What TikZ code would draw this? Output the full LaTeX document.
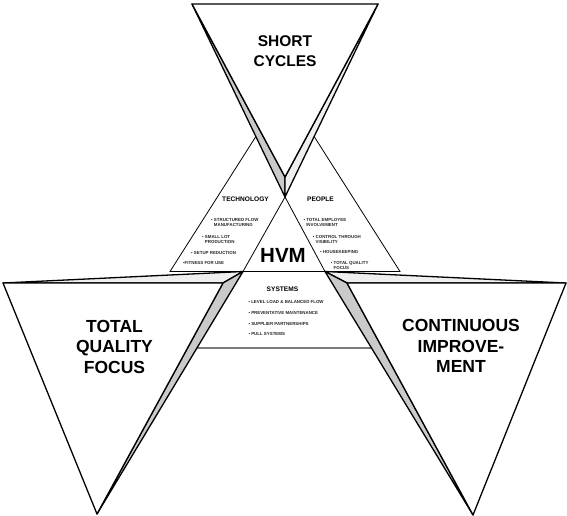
\documentclass[tikz,border=0pt]{standalone}
\usepackage{fontspec}
\setmainfont{Liberation Sans}
\definecolor{foldDark}{HTML}{CACACA}
\definecolor{foldLight}{HTML}{EFEFEF}
\definecolor{baseGray}{HTML}{7A7A7A}
\begin{document}
\begin{tikzpicture}[x=1pt,y=-1pt,
  fold/.style={draw=black, line width=1.3pt, line join=round},
  face/.style={fold, fill=white},
  darkfold/.style={fold, fill=foldDark},
  lightfold/.style={fold, fill=foldLight},
  frame/.style={draw=black, line width=0.8pt},
  baseline/.style={draw=baseGray, line width=1.6pt},
  biglabel/.style={font=\bfseries\fontsize{17.5}{20.5}\selectfont, align=center, inner sep=0pt},
  toplabel/.style={font=\bfseries\fontsize{15.5}{20}\selectfont, align=center, inner sep=0pt},
  hvmlabel/.style={font=\bfseries\fontsize{20.5}{24}\selectfont, inner sep=0pt},
  head/.style={font=\bfseries\fontsize{6.6}{8}\selectfont, inner sep=0pt},
  item/.style={font=\bfseries\fontsize{4.4}{5}\selectfont, text=black!85, anchor=west, align=left, inner sep=0pt}
]
\useasboundingbox (0,0) rectangle (567,516);

% corner points of the three folded triangles
\coordinate (TL) at (192,4);   \coordinate (TR) at (378,4);
\coordinate (TF) at (285,177); \coordinate (TB) at (285,197);
\coordinate (LL) at (3,283);   \coordinate (LR) at (223,283);
\coordinate (LA) at (97,514);  \coordinate (LB) at (243,271.5);
\coordinate (RL) at (347,283); \coordinate (RR) at (566,283);
\coordinate (RA) at (473,515); \coordinate (RB) at (325,271.5);

% central pyramid
\coordinate (C1) at (170,271.5); \coordinate (C2) at (400,271.5);
\coordinate (C1u) at (260,130);  \coordinate (C2u) at (310,130);
\coordinate (S1) at (150,348);   \coordinate (S2) at (420,348);

\draw[frame] (C1u) -- (C1) -- (C2) -- (C2u);
\draw[frame] (LB) -- (TB) -- (RB);
\draw[baseline] (S1) -- (S2);

% top triangle
\path[darkfold]  (TL) -- (TF) -- (TB) -- cycle;
\path[lightfold] (TR) -- (TF) -- (TB) -- cycle;
\path[face]      (TL) -- (TR) -- (TF) -- cycle;

% lower left triangle
\path[lightfold] (LL) -- (LB) -- (LR) -- cycle;
\path[darkfold]  (LR) -- (LB) -- (LA) -- cycle;
\path[face]      (LL) -- (LR) -- (LA) -- cycle;

% lower right triangle
\path[lightfold] (RR) -- (RB) -- (RL) -- cycle;
\path[darkfold]  (RL) -- (RB) -- (RA) -- cycle;
\path[face]      (RL) -- (RR) -- (RA) -- cycle;

% titles
\node[toplabel] (shortcycles) at (285,51) {SHORT\\CYCLES};
\node[biglabel] (tqf) at (114.5,346.5) {TOTAL\\QUALITY\\FOCUS};
\node[biglabel] (ci) at (461,346) {CONTINUOUS\\IMPROVE-\\MENT};
\node[hvmlabel] (hvm) at (283,255.5) {HVM};

% section heads
\node[head] (tech) at (245.5,199.5) {TECHNOLOGY};
\node[head] (people) at (320.5,199.5) {PEOPLE};
\node[head] (systems) at (282.5,289.5) {SYSTEMS};

% technology items
\node[item] (t1) at (211,222.5) {\textbullet\ STRUCTURED FLOW\\\hphantom{\textbullet\ }MANUFACTURING};
\node[item] (t2) at (202,239) {\textbullet\ SMALL LOT\\\hphantom{\textbullet\ }PRODUCTION};
\node[item] (t3) at (191,252.7) {\textbullet\ SETUP REDUCTION};
\node[item] (t4) at (183,263.3) {\textbullet FITNESS FOR USE};

% people items
\node[item] (p1) at (303.3,222.5) {\textbullet\ TOTAL EMPLOYEE\\\hphantom{\textbullet\ }INVOLVEMENT};
\node[item] (p2) at (312.7,239.3) {\textbullet\ CONTROL THROUGH\\\hphantom{\textbullet\ }VISIBILITY};
\node[item] (p3) at (320,251.7) {\textbullet\ HOUSEKEEPING};
\node[item] (p4) at (330.7,265.5) {\textbullet\ TOTAL QUALITY\\\hphantom{\textbullet\ }FOCUS};

% systems items
\node[item] (s1) at (248.3,302.3) {\textbullet\ LEVEL LOAD \& BALANCED FLOW};
\node[item] (s2) at (248.3,313.3) {\textbullet\ PREVENTATIVE MAINTENANCE};
\node[item] (s3) at (248.3,324) {\textbullet\ SUPPLIER PARTNERSHIPS};
\node[item] (s4) at (248.3,334) {\textbullet\ PULL SYSTEMS};
\end{tikzpicture}
\end{document}
